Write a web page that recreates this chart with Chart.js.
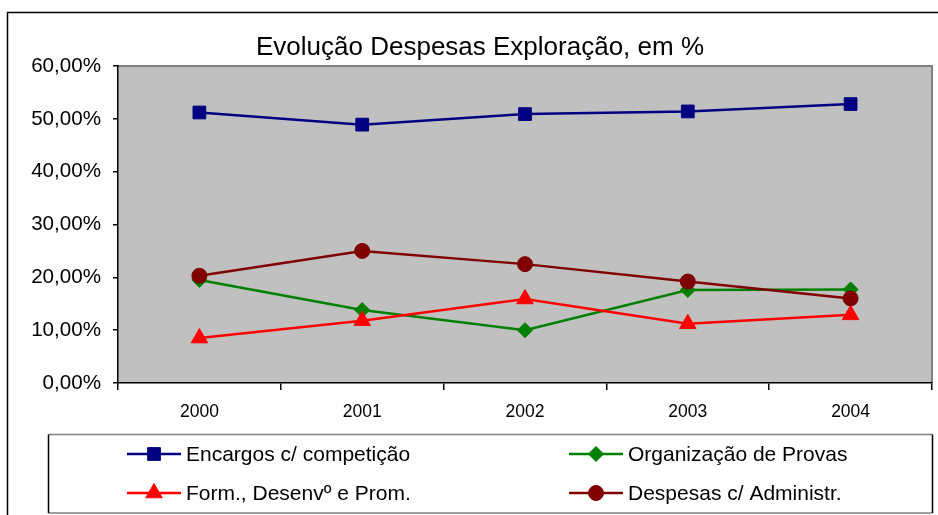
<!DOCTYPE html>
<html>
<head>
<meta charset="utf-8">
<script src="https://cdn.jsdelivr.net/npm/chart.js@4"></script>
<style>
  html, body { margin: 0; padding: 0; background: #fff; }
  #wrap { width: 938px; height: 515px; position: relative; }
</style>
</head>
<body>
<div id="wrap"><canvas id="chartCanvas" width="938" height="515"></canvas></div>
<script>
const titleText = 'Evolução Despesas Exploração, em %';
const years = ['2000', '2001', '2002', '2003', '2004'];
const encargos = [51.2, 48.9, 50.9, 51.4, 52.8];
const organizacao = [19.5, 13.8, 10.0, 17.6, 17.7];
const formacao = [8.5, 11.8, 15.9, 11.2, 12.9];
const administracao = [20.3, 25.0, 22.5, 19.2, 16.0];
const yTicks = [0, 10, 20, 30, 40, 50, 60];

const FONT = "'Liberation Sans', Arial, sans-serif";

// outer frame, grey plot area and title
const framePlugin = {
    id: 'frame',
    beforeDraw(chart) {
        const ctx = chart.ctx;
        const a = chart.chartArea;
        ctx.save();
        ctx.strokeStyle = '#000';
        ctx.lineWidth = 1.5;
        ctx.strokeRect(7.5, 12.5, 960, 530);

        ctx.fillStyle = '#c0c0c0';
        ctx.fillRect(a.left, a.top, a.right - a.left, a.bottom - a.top);
        ctx.strokeStyle = '#808080';
        ctx.lineWidth = 2;
        ctx.beginPath();
        ctx.moveTo(a.left, a.top);
        ctx.lineTo(a.right, a.top);
        ctx.lineTo(a.right, a.bottom);
        ctx.stroke();

        ctx.fillStyle = '#000';
        ctx.font = '26px ' + FONT;
        ctx.textAlign = 'center';
        ctx.textBaseline = 'alphabetic';
        ctx.fillText(titleText, 480, 55);
        ctx.restore();
    }
};

// boxed legend in two columns
const legendPlugin = {
    id: 'boxLegend',
    afterDraw(chart) {
        const ctx = chart.ctx;
        const box = { left: 48.5, top: 434.5, right: 932.5, bottom: 513 };
        ctx.save();
        ctx.fillStyle = '#fff';
        ctx.fillRect(box.left, box.top, box.right - box.left, box.bottom - box.top);
        ctx.lineWidth = 1.5;
        ctx.strokeStyle = '#808080';
        ctx.beginPath();
        ctx.moveTo(box.left, box.top); ctx.lineTo(box.right, box.top);
        ctx.moveTo(box.left, box.bottom); ctx.lineTo(box.right, box.bottom);
        ctx.stroke();
        ctx.strokeStyle = '#000';
        ctx.beginPath();
        ctx.moveTo(box.left, box.top); ctx.lineTo(box.left, box.bottom);
        ctx.moveTo(box.right, box.top); ctx.lineTo(box.right, box.bottom);
        ctx.stroke();

        const cols = [127, 569];
        const rows = [454, 493];
        ctx.font = '21px ' + FONT;
        ctx.textBaseline = 'middle';
        ctx.textAlign = 'left';
        chart.data.datasets.forEach((ds, i) => {
            const x = cols[i % 2];
            const y = rows[Math.floor(i / 2)];
            ctx.strokeStyle = ds.borderColor;
            ctx.lineWidth = ds.borderWidth;
            ctx.beginPath();
            ctx.moveTo(x, y);
            ctx.lineTo(x + 54, y);
            ctx.stroke();
            ctx.fillStyle = ds.pointBackgroundColor;
            ctx.strokeStyle = ds.pointBorderColor;
            ctx.lineWidth = 1;
            Chart.helpers.drawPoint(ctx, {
                pointStyle: ds.pointStyle, radius: ds.pointRadius, rotation: 0, borderWidth: 1
            }, x + 27, y);
            ctx.fillStyle = '#000';
            ctx.fillText(ds.label, x + 59, y + 1);
        });
        ctx.restore();
    }
};

function series(label, data, color, style, radius, order) {
    return {
        label: label,
        data: data,
        borderColor: color,
        backgroundColor: color,
        pointBackgroundColor: color,
        pointBorderColor: color,
        pointBorderWidth: 1,
        pointStyle: style,
        pointRadius: radius,
        pointHoverRadius: radius,
        borderWidth: 2.5,
        tension: 0,
        fill: false,
        order: order
    };
}

const ctx = document.getElementById('chartCanvas').getContext('2d');
new Chart(ctx, {
    type: 'line',
    data: {
        labels: years,
        datasets: [
            series('Encargos c/ competição', encargos, '#000080', 'rect', 9, 4),
            series('Organização de Provas', organizacao, '#008000', 'rectRot', 7.5, 3),
            series('Form., Desenvº e Prom.', formacao, '#ff0000', 'triangle', 9.5, 2),
            series('Despesas c/ Administr.', administracao, '#800000', 'circle', 7.5, 1)
        ]
    },
    options: {
        responsive: false,
        animation: false,
        events: [],
        layout: { autoPadding: false, padding: { left: 0, top: 66, right: 6, bottom: 82 } },
        plugins: {
            legend: { display: false },
            title: { display: false },
            tooltip: { enabled: false }
        },
        scales: {
            x: {
                type: 'category',
                offset: true,
                grid: { offset: true, drawOnChartArea: false, tickLength: 7, color: '#000', lineWidth: 1.5 },
                border: { color: '#000', width: 1.5 },
                ticks: { color: '#000', font: { family: FONT, size: 17.5 }, padding: 12, maxRotation: 0 },
                afterFit: s => { s.height = 50; }
            },
            y: {
                min: 0,
                max: 60,
                afterBuildTicks: s => { s.ticks = yTicks.map(v => ({ value: v })); },
                grid: { drawOnChartArea: false, tickLength: 5, color: '#000', lineWidth: 1.5 },
                border: { color: '#000', width: 1.5 },
                ticks: {
                    color: '#000',
                    font: { family: FONT, size: 20.6 },
                    padding: 12,
                    callback: v => v.toFixed(2).replace('.', ',') + '%'
                },
                afterFit: s => { s.width = 118; }
            }
        }
    },
    plugins: [framePlugin, legendPlugin]
});
</script>
</body>
</html>
